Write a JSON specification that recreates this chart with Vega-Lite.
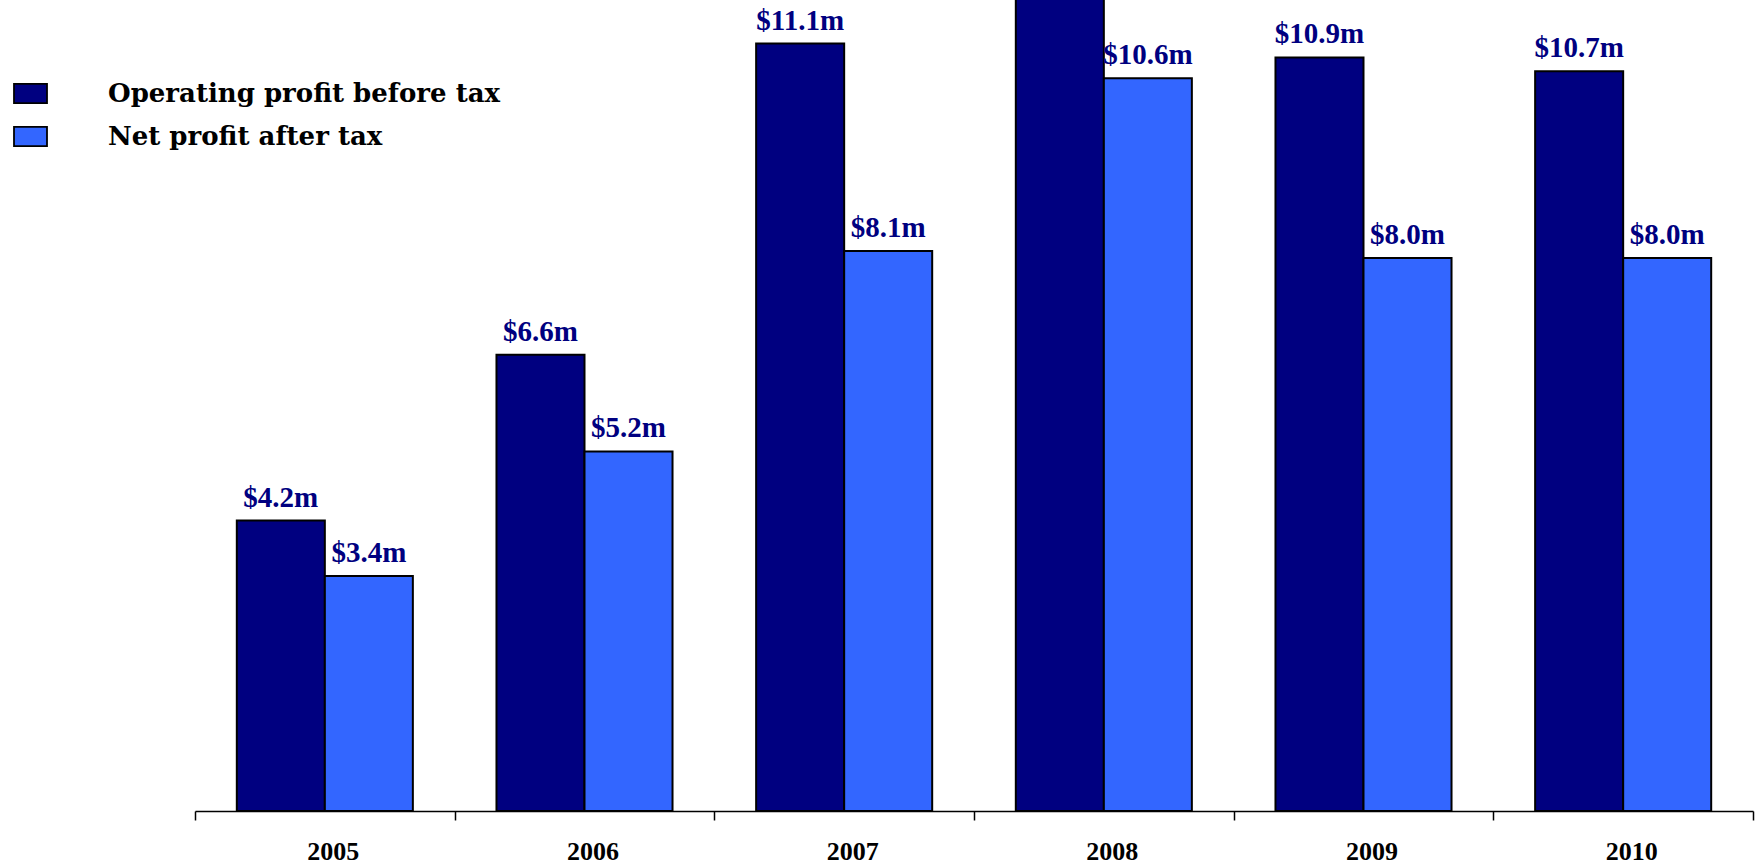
{
  "$schema": "https://vega.github.io/schema/vega-lite/v6.json",
  "width": 1558,
  "height": 811,
  "autosize": {"type": "none"},
  "padding": {"left": 195, "top": 0, "right": 6, "bottom": 56},
  "background": "white",
  "config": {"view": {"stroke": null}},
  "data": {
    "values": [
      {"year": "2005", "series": "Operating profit before tax", "value": 4.2, "label": "$4.2m"},
      {"year": "2005", "series": "Net profit after tax", "value": 3.4, "label": "$3.4m"},
      {"year": "2006", "series": "Operating profit before tax", "value": 6.6, "label": "$6.6m"},
      {"year": "2006", "series": "Net profit after tax", "value": 5.2, "label": "$5.2m"},
      {"year": "2007", "series": "Operating profit before tax", "value": 11.1, "label": "$11.1m"},
      {"year": "2007", "series": "Net profit after tax", "value": 8.1, "label": "$8.1m"},
      {"year": "2008", "series": "Operating profit before tax", "value": 14.0, "label": "$14.0m"},
      {"year": "2008", "series": "Net profit after tax", "value": 10.6, "label": "$10.6m"},
      {"year": "2009", "series": "Operating profit before tax", "value": 10.9, "label": "$10.9m"},
      {"year": "2009", "series": "Net profit after tax", "value": 8.0, "label": "$8.0m"},
      {"year": "2010", "series": "Operating profit before tax", "value": 10.7, "label": "$10.7m"},
      {"year": "2010", "series": "Net profit after tax", "value": 8.0, "label": "$8.0m"}
    ]
  },
  "encoding": {
    "x": {
      "field": "year",
      "type": "nominal",
      "scale": {"paddingInner": 0, "paddingOuter": 0},
      "axis": {
        "title": null,
        "labelAngle": 0,
        "tickBand": "extent",
        "domainColor": "black",
        "domainWidth": 1.5,
        "tickColor": "black",
        "tickWidth": 1.5,
        "tickSize": 9,
        "labelPadding": 18,
        "labelOffset": 8,
        "labelFont": "Liberation Serif",
        "labelFontSize": 26,
        "labelFontWeight": "bold",
        "labelColor": "black",
        "grid": false
      }
    },
    "xOffset": {
      "field": "series",
      "type": "nominal",
      "sort": ["Operating profit before tax", "Net profit after tax"],
      "scale": {"paddingInner": 0, "paddingOuter": 0.475}
    },
    "y": {
      "field": "value",
      "type": "quantitative",
      "scale": {"domain": [0, 11.73], "nice": false, "zero": true},
      "axis": null
    }
  },
  "layer": [
    {
      "mark": {"type": "bar", "stroke": "black", "strokeWidth": 2, "clip": true},
      "encoding": {
        "color": {
          "field": "series",
          "type": "nominal",
          "sort": ["Operating profit before tax", "Net profit after tax"],
          "scale": {
            "domain": ["Operating profit before tax", "Net profit after tax"],
            "range": ["#000080", "#3366FF"]
          },
          "legend": {
            "title": null,
            "orient": "none",
            "legendX": -182,
            "legendY": 76,
            "padding": 0,
            "symbolType": "M-1,-0.58H1V0.58H-1Z",
            "symbolSize": 1089,
            "symbolStrokeColor": "black",
            "symbolStrokeWidth": 1.8,
            "symbolOpacity": 1,
            "labelFont": "DejaVu Serif",
            "labelFontSize": 26,
            "labelFontWeight": "bold",
            "labelColor": "black",
            "labelOffset": 60,
            "labelLimit": 0,
            "rowPadding": 12
          }
        }
      }
    },
    {
      "transform": [{"filter": "datum.value <= 11.73"}],
      "mark": {
        "type": "text",
        "baseline": "alphabetic",
        "align": "center",
        "dy": -14,
        "font": "Liberation Serif",
        "fontSize": 29,
        "fontWeight": "bold",
        "color": "#000080",
        "clip": true
      },
      "encoding": {
        "text": {"field": "label", "type": "nominal"}
      }
    }
  ]
}
